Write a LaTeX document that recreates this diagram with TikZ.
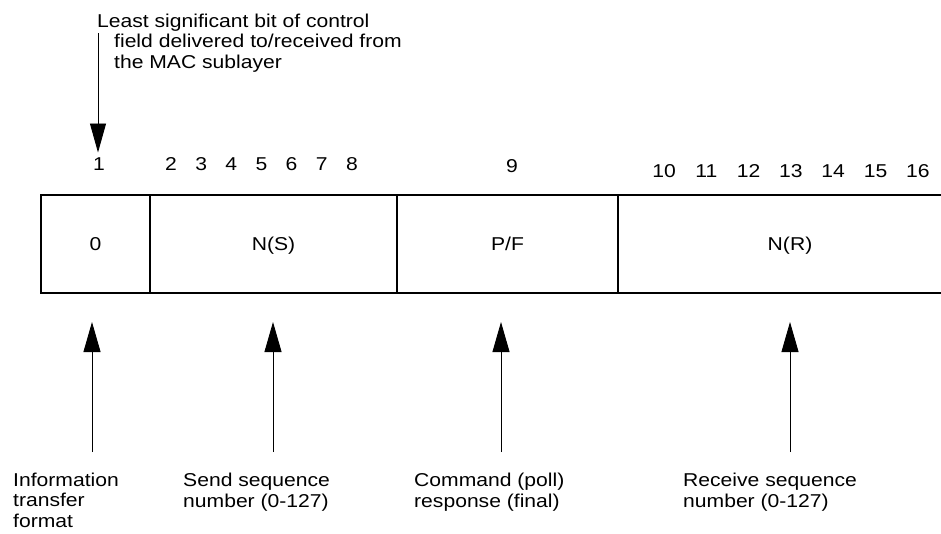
\documentclass[tikz,border=0pt]{standalone}
\usepackage{fontspec}
\setmainfont{Liberation Sans}[FakeStretch=1.135]
\usetikzlibrary{arrows.meta, positioning}
\newcommand{\fieldfont}{\fontsize{18.6pt}{20.5pt}\selectfont}
\tikzset{
    field/.style={
        rectangle, draw=black, line width=1.2pt, minimum height=98pt,
        inner sep=0pt, outer sep=0pt, anchor=west, font=\fieldfont,
        text height=13.5pt, text depth=0pt
    },
    bitnum/.style={anchor=base, inner sep=0pt, font=\fieldfont},
    note/.style={anchor=base west, align=left, inner sep=0pt, font=\fieldfont},
    uparrow/.style={-{Triangle[length=30pt, width=17pt]}, line width=0.9pt},
    downarrow/.style={-{Triangle[length=29pt, width=16pt]}, line width=0.9pt},
}
\begin{document}
\begin{tikzpicture}[x=1pt, y=-1pt]
    \useasboundingbox (0,0) rectangle (941,533);

    \node[field, minimum width=109pt] (info) at (41,244) {0};
    \node[field, minimum width=247pt, right=0pt of info] (ns) {N(S)};
    \node[field, minimum width=221pt, right=0pt of ns] (pf) {P/F};
    \node[field, minimum width=344pt, right=0pt of pf] (nr) {N(R)};

    \node[bitnum] (b1) at (99,170) {1};
    \foreach \b in {2,...,8}
        \node[bitnum] (b\b) at ({171+30.15*(\b-2)},170) {\b};
    \node[bitnum] (b9) at (512,172) {9};
    \foreach \b in {10,...,16}
        \node[bitnum] (b\b) at ({664+42.3*(\b-10)},177) {\b};

    % multi-line notes: base = baseline of the last line
    \node[note] (lsb) at (97,68) {Least significant bit of control\\\hspace*{17pt}field delivered to/received from\\\hspace*{17pt}the MAC sublayer};
    \coordinate (lsbtail) at (98,33);
    \draw[downarrow, shorten >=4.5pt] (lsbtail) -- (lsbtail |- b1.north);

    \node[note] (infotext) at (13,527) {Information\\transfer\\format};
    \node[note] (nstext) at (183,507) {Send sequence\\number (0-127)};
    \node[note] (pftext) at (414,507) {Command (poll)\\response (final)};
    \node[note] (nrtext) at (683,507) {Receive sequence\\number (0-127)};

    \coordinate (infotail) at (92,452);
    \coordinate (nstail) at (273,452);
    \coordinate (pftail) at (501,452);
    \coordinate (nrtail) at (790,452);

    \draw[uparrow, shorten >=29pt] (infotail) -- (infotail |- info.south);
    \draw[uparrow, shorten >=29pt] (nstail) -- (nstail |- ns.south);
    \draw[uparrow, shorten >=29pt] (pftail) -- (pftail |- pf.south);
    \draw[uparrow, shorten >=29pt] (nrtail) -- (nrtail |- nr.south);
\end{tikzpicture}
\end{document}
